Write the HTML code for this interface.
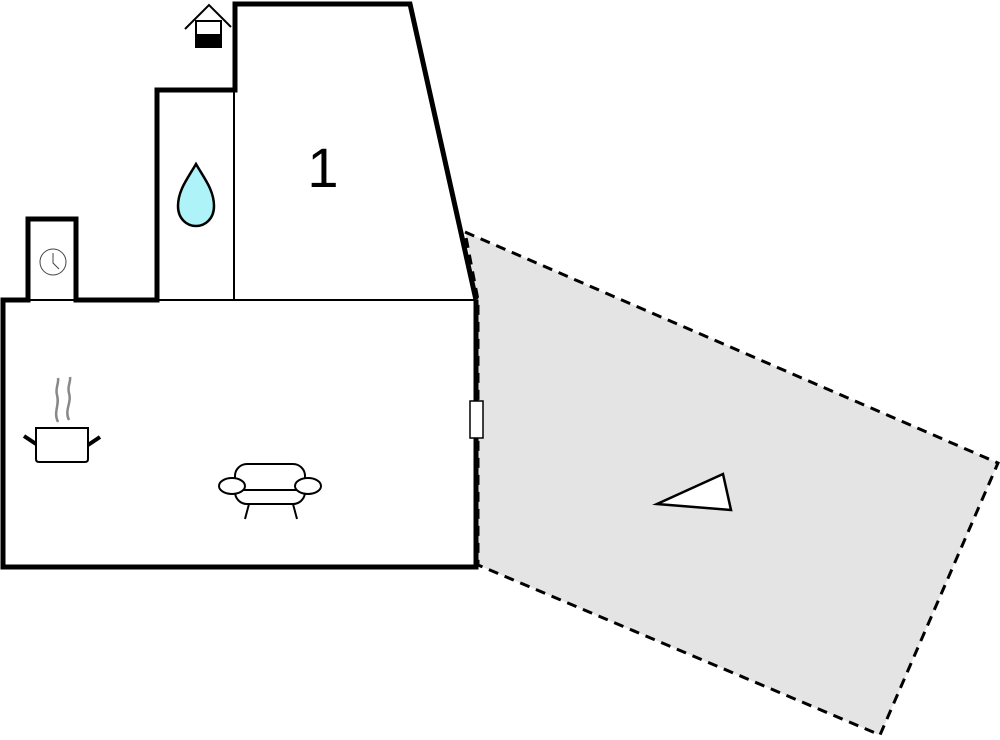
<!DOCTYPE html>
<html><head><style>body{margin:0;background:#fff}svg{display:block}</style></head><body>
<svg width="1000" height="740" viewBox="0 0 1000 740" xmlns="http://www.w3.org/2000/svg">
<polygon points="465,232 998,463 880,735 478,565 478,300" fill="#e4e4e4" stroke="#000" stroke-width="3" stroke-dasharray="10,7"/>
<!-- interior thin lines -->
<line x1="26" y1="300" x2="78" y2="300" stroke="#000" stroke-width="2"/>
<line x1="157" y1="300" x2="476" y2="300" stroke="#000" stroke-width="2"/>
<line x1="234" y1="91" x2="234" y2="300" stroke="#000" stroke-width="2"/>
<!-- thick walls -->
<polyline points="476,300 476,567 3,567 3,300 28,300 28,219 76,219 76,300 157,300 157,90 235,90 235,4 410,4 476,300" fill="none" stroke="#000" stroke-width="5" stroke-linejoin="miter"/>
<rect x="470" y="401" width="13" height="37" fill="#fff" stroke="#000" stroke-width="1.5"/>
<polygon points="657,504 723,474 731,510" fill="#fff" stroke="#000" stroke-width="2.5"/>
<!-- clock -->
<circle cx="53" cy="262" r="13" fill="#fff" stroke="#444" stroke-width="1"/>
<polyline points="53,253 53,263 59,269" fill="none" stroke="#444" stroke-width="1"/>
<!-- house icon -->
<polyline points="185,29 209,5 231,27" fill="none" stroke="#000" stroke-width="2"/>
<rect x="196" y="21" width="25" height="26" fill="#fff" stroke="#000" stroke-width="2"/>
<rect x="196" y="34" width="25" height="13" fill="#000"/>
<!-- drop -->
<path d="M196,164 C188,178 178,190 178,206 C178,219 187,226 196,226 C205,226 214,219 214,206 C214,190 204,178 196,164 Z" fill="#adf3f8" stroke="#000" stroke-width="2.5"/>
<text x="323" y="187" font-family="Liberation Sans, sans-serif" font-size="56" text-anchor="middle">1</text>
<!-- pot -->
<path d="M58,422 C53,412 60,405 57,395 C55,388 59,384 58,378" fill="none" stroke="#888" stroke-width="2.5"/>
<path d="M69,420 C64,410 72,403 69,393 C67,386 71,382 70,377" fill="none" stroke="#888" stroke-width="2.5"/>
<path d="M36,428 H88 V459 Q88,462 85,462 H39 Q36,462 36,459 Z" fill="#fff" stroke="#000" stroke-width="2"/>
<line x1="24" y1="436" x2="36" y2="444" stroke="#000" stroke-width="4"/>
<line x1="100" y1="437" x2="88" y2="445" stroke="#000" stroke-width="4"/>
<!-- sofa -->
<g fill="#fff" stroke="#000" stroke-width="2">
<rect x="235" y="464" width="70" height="40" rx="12"/>
<line x1="243" y1="490" x2="297" y2="490"/>
<ellipse cx="232" cy="486" rx="13" ry="8"/>
<ellipse cx="308" cy="486" rx="13" ry="8"/>
<line x1="249" y1="504" x2="245" y2="519"/>
<line x1="293" y1="504" x2="297" y2="519"/>
</g>
</svg>
</body></html>
